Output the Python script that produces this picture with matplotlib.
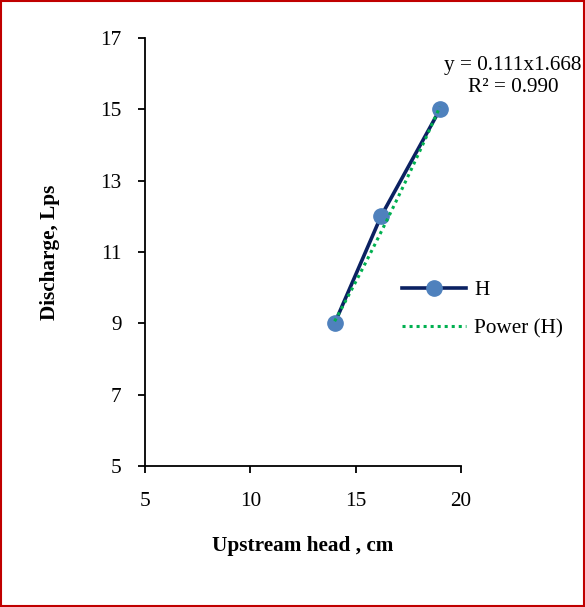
import matplotlib.pyplot as plt
import numpy as np
from matplotlib.patches import Rectangle

# Data
head_cm = [14.0, 16.2, 19.0]
discharge_lps = [9.0, 12.0, 15.0]

# Power trendline as printed on the chart
POWER_A = 0.111
POWER_B = 1.668
R2 = 0.990

X_TICKS = [5, 10, 15, 20]
Y_TICKS = [5, 7, 9, 11, 13, 15, 17]

FS = 15.3
plt.rcParams["font.family"] = ["Liberation Serif", "DejaVu Serif"]
plt.rcParams["font.size"] = FS

fig = plt.figure(figsize=(5.85, 6.07), dpi=100)
ax = fig.add_axes([0.2479, 0.2323, 0.5402, 0.7051])

ax.plot(head_cm, discharge_lps, color="#0b2162", linewidth=2.6,
        marker="o", markersize=11, markerfacecolor="#4f81bd",
        markeredgecolor="#4f81bd", label="H", zorder=3)

xt = np.linspace(min(head_cm), max(head_cm), 100)
ax.plot(xt, POWER_A * xt ** POWER_B, color="#00b050", linewidth=2.2,
        linestyle=(0, (1, 1.3)), label="Power (H)", zorder=4)

ax.set_xlim(5, 20)
ax.set_ylim(5, 17)
ax.set_xticks(X_TICKS)
ax.set_yticks(Y_TICKS)
ax.tick_params(direction="out", length=5, width=1.3, labelsize=FS)
ax.tick_params(axis="x", pad=14)
ax.tick_params(axis="y", pad=12)
for s in ["top", "right"]:
    ax.spines[s].set_visible(False)
for s in ["left", "bottom"]:
    ax.spines[s].set_linewidth(1.3)

ax.set_xlabel("Upstream head , cm", fontweight="bold", labelpad=18)
ax.set_ylabel("Discharge, Lps", fontweight="bold", labelpad=29)

ax.text(22.47, 16.22, "y = 0.111x1.668", ha="center", va="center",
        clip_on=False)
ax.text(22.47, 15.62, f"R² = {R2:.3f}", ha="center", va="center",
        clip_on=False)

ax.legend(loc="center left", bbox_to_anchor=(0.752, 0.366), frameon=False,
          handlelength=3.0, handletextpad=0.4, labelspacing=0.85,
          fontsize=FS)

fig.patches.append(Rectangle((0.002, 0.002), 0.996, 0.996,
                             transform=fig.transFigure, fill=False,
                             edgecolor="#c00000", linewidth=1.5))

fig.savefig("out.png", dpi=100)
